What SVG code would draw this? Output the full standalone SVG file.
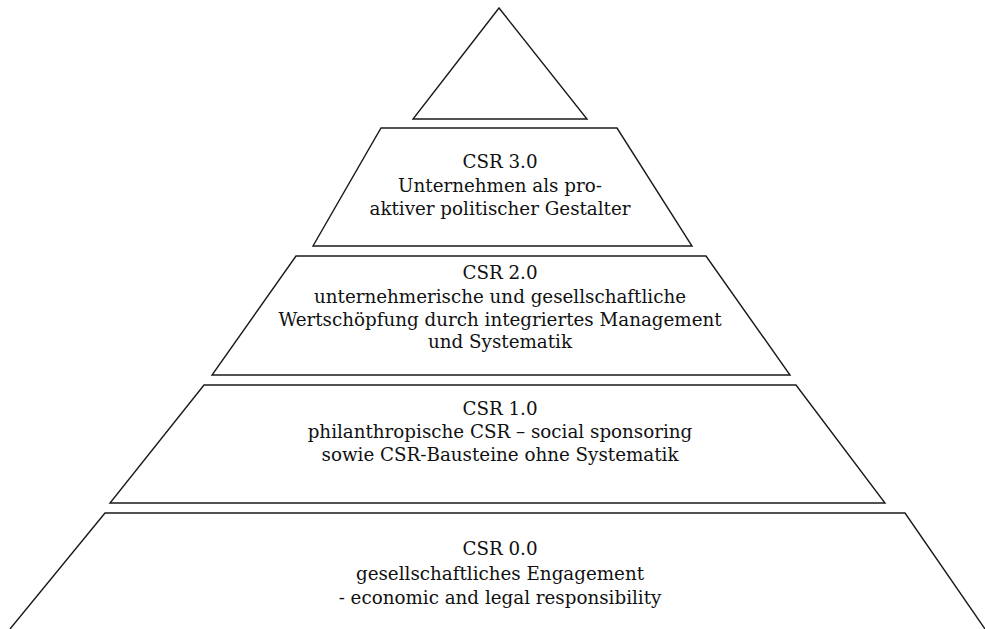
<svg xmlns="http://www.w3.org/2000/svg" width="985" height="629" viewBox="0 0 985 629">
<style>
.s{fill:#fff;stroke:#1a1a1a;stroke-width:1.4;stroke-linejoin:miter}
.t{font-family:"DejaVu Serif","Liberation Serif",serif;font-size:18.3px;fill:#111;text-anchor:middle}
</style>
<rect width="985" height="629" fill="#fff"/>
<g id="top">
<polygon class="s" points="499,8 413,119 587,119"/>
</g>
<g id="csr3">
<polygon class="s" points="381,128 617,128 692,246 313,246"/>
<text class="t" x="500" y="168">CSR 3.0</text>
<text class="t" x="500" y="192">Unternehmen als pro-</text>
<text class="t" x="500" y="215">aktiver politischer Gestalter</text>
</g>
<g id="csr2">
<polygon class="s" points="296,256 706,256 790,375 212,375"/>
<text class="t" x="500" y="279">CSR 2.0</text>
<text class="t" x="500" y="303">unternehmerische und gesellschaftliche</text>
<text class="t" x="500" y="326">Wertschöpfung durch integriertes Management</text>
<text class="t" x="500" y="348">und Systematik</text>
</g>
<g id="csr1">
<polygon class="s" points="204,385 796,385 885,503 110,503"/>
<text class="t" x="500" y="415">CSR 1.0</text>
<text class="t" x="500" y="438">philanthropische CSR – social sponsoring</text>
<text class="t" x="500" y="461">sowie CSR-Bausteine ohne Systematik</text>
</g>
<g id="csr0">
<path class="s" d="M10,629 L105,513 L905,513 L985,629"/>
<text class="t" x="500" y="555">CSR 0.0</text>
<text class="t" x="500" y="580">gesellschaftliches Engagement</text>
<text class="t" x="500" y="604">- economic and legal responsibility</text>
</g>
<g id="connectors"/>
</svg>
